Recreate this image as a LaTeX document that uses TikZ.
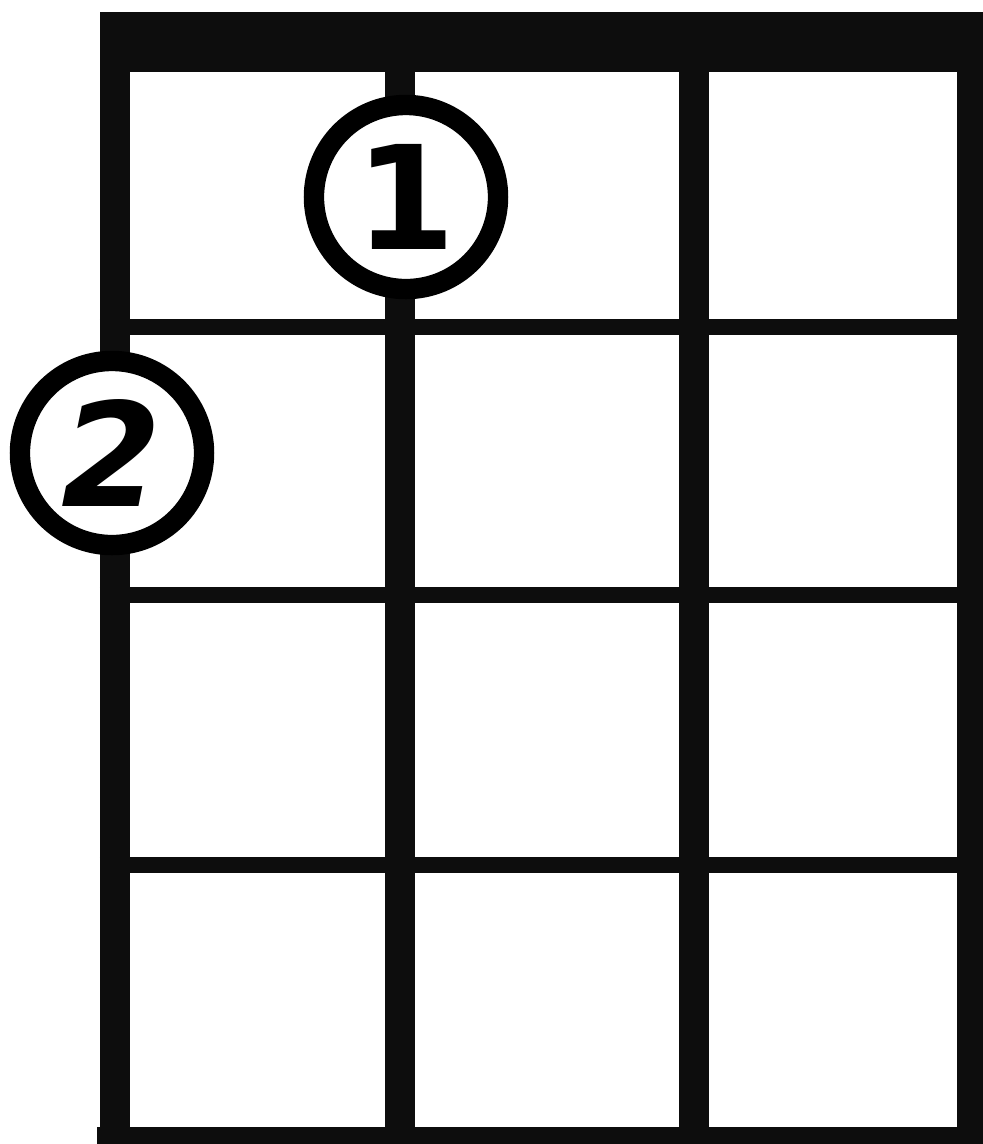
\documentclass[tikz,border=0pt]{standalone}
\usepackage{fontspec}
\usepackage{tikz}
\usetikzlibrary{positioning}
\newfontfamily\digitfont{DejaVu Sans}

\tikzset{
  stringline/.style={line width=8.5pt, line cap=butt},
  fretline/.style={line width=4.3pt},
  finger/.style={circle, draw=black, fill=white, line width=5.8pt, minimum size=1.84cm, inner sep=0pt, font=\digitfont\fontsize{41}{41}\selectfont\bfseries}
}

\begin{document}
\begin{tikzpicture}[x=0.01cm, y=-0.01cm, every node/.style={align=center}]
      \colorlet{ink}{black!95}
      \useasboundingbox (0,0) rectangle (983,1144);
      \fill[white] (0,0) rectangle (983,1144);

      % nut and bottom fret
      \fill[ink] (100,12) rectangle (995,72);
      \fill[ink] (97,1127) rectangle (995,1150);
      % frets
      \foreach \y in {327, 595, 865} {
        \draw[fretline, ink] (100,\y) -- (995,\y);
      }
      % strings
      \foreach \x in {115, 400, 694, 972} {
        \draw[stringline, ink] (\x,12) -- (\x,1150);
      }
      % fingers
      \node[finger] (one) at (406,197) {1};
      \node[finger] (two) at (112,453) {\itshape 2};
    \end{tikzpicture}
\end{document}
